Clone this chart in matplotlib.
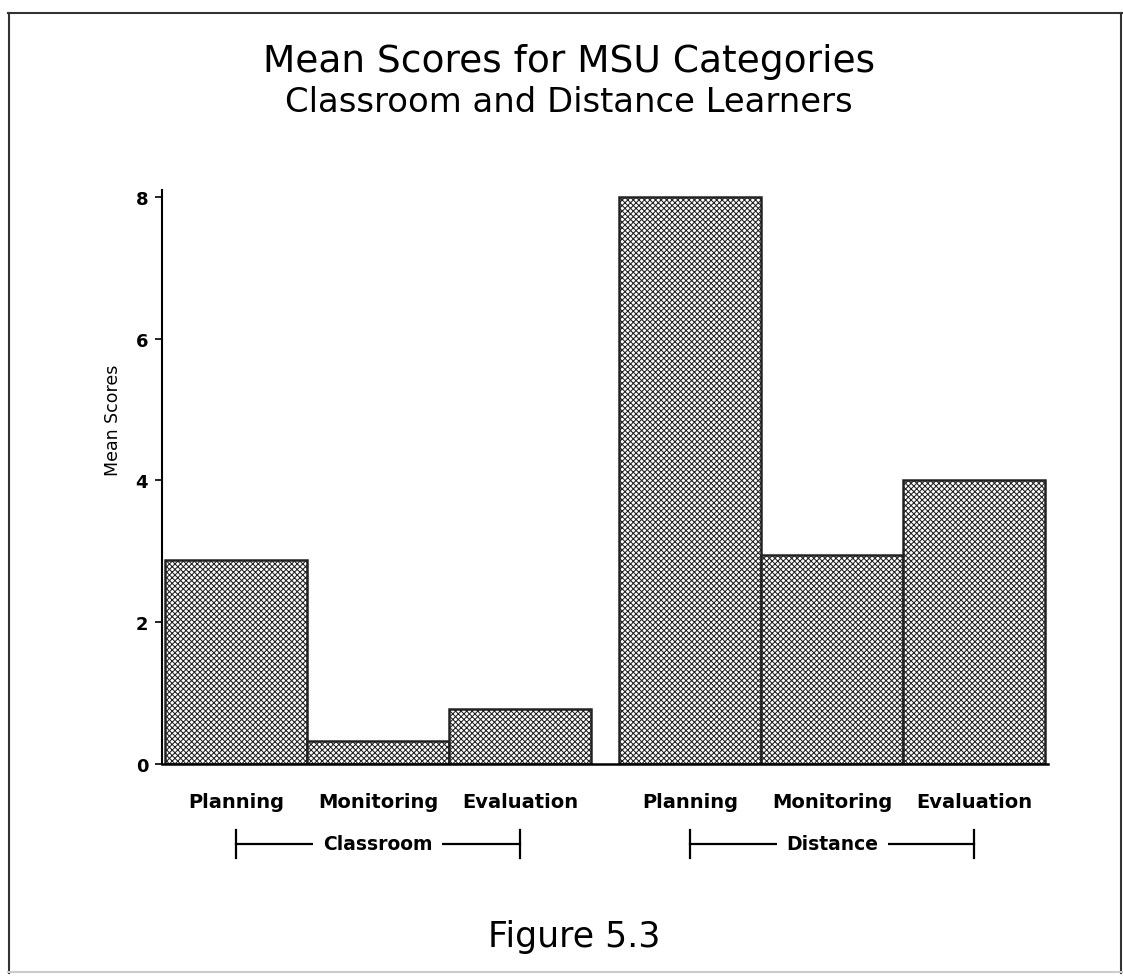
import matplotlib
matplotlib.use("Agg")
import matplotlib.pyplot as plt
from matplotlib.lines import Line2D

# data
categories = ["Planning", "Monitoring", "Evaluation"]
groups = ["Classroom", "Distance"]
classroom_scores = [2.88, 0.32, 0.77]
distance_scores = [8.0, 2.95, 4.0]
y_ticks = [0, 2, 4, 6, 8]

plt.rcParams["font.family"] = ["DejaVu Sans"]
plt.rcParams["hatch.linewidth"] = 0.75

fig = plt.figure(figsize=(11.23, 9.78), dpi=100)
ax = fig.add_axes([0.1443, 0.2178, 0.789, 0.587])

# bar positions: two groups of three, small gap between groups
gap = 0.2
x_class = [i for i in range(len(categories))]
x_dist = [len(categories) + gap + i for i in range(len(categories))]

ax.bar(x_class, classroom_scores, width=1.0, color="white", edgecolor="#222222",
       linewidth=1.8, hatch="xxxxxx")
ax.bar(x_dist, distance_scores, width=1.0, color="white", edgecolor="#222222",
       linewidth=1.8, hatch="xxxxxx")

ax.set_xlim(-0.52, x_dist[-1] + 0.52)
ax.set_ylim(0, 8.1)
ax.set_yticks(y_ticks)
ax.set_yticklabels([str(t) for t in y_ticks], fontsize=13, fontweight="bold")
ax.tick_params(axis="y", length=5, width=1.2, pad=5)
ax.set_xticks(x_class + x_dist)
ax.set_xticklabels(categories + categories, fontsize=14, fontweight="bold")
ax.tick_params(axis="x", length=0, pad=20)

ax.spines["top"].set_visible(False)
ax.spines["right"].set_visible(False)
ax.spines["left"].set_linewidth(1.5)
ax.spines["bottom"].set_linewidth(1.8)

ax.set_ylabel("Mean Scores", fontsize=12.5)
ax.yaxis.set_label_coords(-0.045, 0.60)

# group brackets under the category labels
trans = ax.get_xaxis_transform()
for xs, name in [(x_class, groups[0]), (x_dist, groups[1])]:
    y0 = -0.139
    ax.plot([xs[0], xs[-1]], [y0, y0], color="black", lw=1.6,
            transform=trans, clip_on=False)
    for xe in (xs[0], xs[-1]):
        ax.plot([xe, xe], [y0 - 0.024, y0 + 0.024], color="black", lw=1.6,
                transform=trans, clip_on=False)
    ax.text(xs[1], y0, name, ha="center", va="center", fontsize=13.5,
            fontweight="bold", transform=trans,
            bbox=dict(facecolor="white", edgecolor="none", pad=7))

fig.text(0.5067, 0.9366, "Mean Scores for MSU Categories", ha="center", va="center",
         fontsize=27)
fig.text(0.5067, 0.8957, "Classroom and Distance Learners", ha="center", va="center",
         fontsize=24.4)
fig.text(0.511, 0.0419, "Figure 5.3", ha="center", va="center", fontsize=25)

# page frame (bottom edge is faint in the scan)
frame = [([0.007, 0.999], [0.986, 0.986], "#333333"),
         ([0.008, 0.008], [0.004, 0.986], "#333333"),
         ([0.998, 0.998], [0.004, 0.986], "#333333"),
         ([0.007, 0.999], [0.005, 0.005], "#cccccc")]
for xs, ys, c in frame:
    fig.lines.append(Line2D(xs, ys, transform=fig.transFigure, color=c, lw=1.5))

fig.savefig("out.png", dpi=100)
